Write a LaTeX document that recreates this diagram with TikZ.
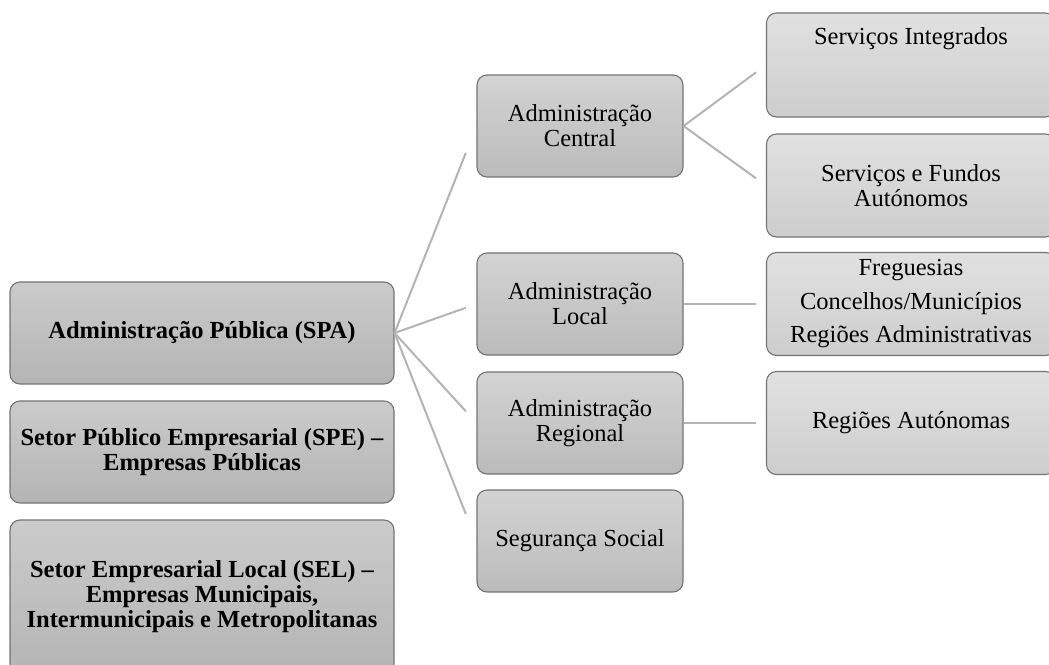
\documentclass[tikz,border=0pt]{standalone}
\usepackage{fontspec}
\setmainfont{Liberation Serif}
\usetikzlibrary{calc}
\definecolor{edgegray}{HTML}{747474}
\definecolor{linkgray}{HTML}{B4B4B4}
\definecolor{ltop}{HTML}{CBCBCB}
\definecolor{lbot}{HTML}{B4B4B4}
\definecolor{mtop}{HTML}{D3D3D3}
\definecolor{mbot}{HTML}{BBBBBB}
\definecolor{rtop}{HTML}{E1E1E1}
\definecolor{rbot}{HTML}{CDCDCD}
\begin{document}
\begin{tikzpicture}[x=1pt,y=-1pt,
  box/.style={draw=edgegray, line width=1.1pt, rounded corners=10pt,
    inner sep=0pt, align=center, font=\fontsize{24.5}{25}\selectfont},
  lbox/.style={box, minimum width=384pt, top color=ltop, bottom color=lbot,
    font=\fontsize{24.5}{25}\selectfont\bfseries},
  mbox/.style={box, minimum width=206pt, minimum height=102pt,
    top color=mtop, bottom color=mbot},
  rbox/.style={box, minimum width=289pt, minimum height=103pt,
    top color=rtop, bottom color=rbot},
  link/.style={draw=linkgray, line width=2pt}]
\path[use as bounding box, fill=white] (0,0) rectangle (1049,664);
\clip (0,0) rectangle (1049,664);

% left column: sectors
\node[lbox, minimum height=102pt] (spa) at (202,333) {Administração Pública (SPA)};
\node[lbox, minimum height=102pt] (spe) at (202,452) {Setor Público Empresarial (SPE) –\\Empresas Públicas};
\node[lbox, minimum height=154pt] (sel) at (202,597) {Setor Empresarial Local (SEL) –\\Empresas Municipais,\\Intermunicipais e Metropolitanas};

% middle column: subsectors of the public administration
\node[mbox] (ac) at (580,126) {Administração\\Central};
\node[mbox] (al) at (580,304) {Administração\\Local};
\node[mbox] (ar) at (580,423) {Administração\\Regional};
\node[mbox] (ss) at (580,541) {Segurança Social};

% right column: entities
\node[rbox, minimum height=104pt] (si) at (911,65) {};
\node[font=\fontsize{24.5}{25}\selectfont, anchor=center] (sitxt) at (911,39) {Serviços Integrados};
\node[rbox] (sfa) at (911,185.5) {Serviços e Fundos\\Autónomos};
\node[rbox, font=\fontsize{24.5}{33.5}\selectfont] (fr) at (911,304) {Freguesias\\Concelhos/Municípios\\Regiões Administrativas};
\node[rbox] (ra) at (911,423) {Regiões Autónomas};

% connectors
\foreach \c in {ac,al,ar,ss}
  \draw[link] (spa.east) -- ($(spa.east)!0.87!(\c.west)$);
\foreach \c in {si,sfa}
  \draw[link] (ac.east) -- ($(ac.east)!0.88!(\c.west)$);
\draw[link] (al.east) -- ($(al.east)!0.88!(fr.west)$);
\draw[link] (ar.east) -- ($(ar.east)!0.88!(ra.west)$);
\end{tikzpicture}
\end{document}
